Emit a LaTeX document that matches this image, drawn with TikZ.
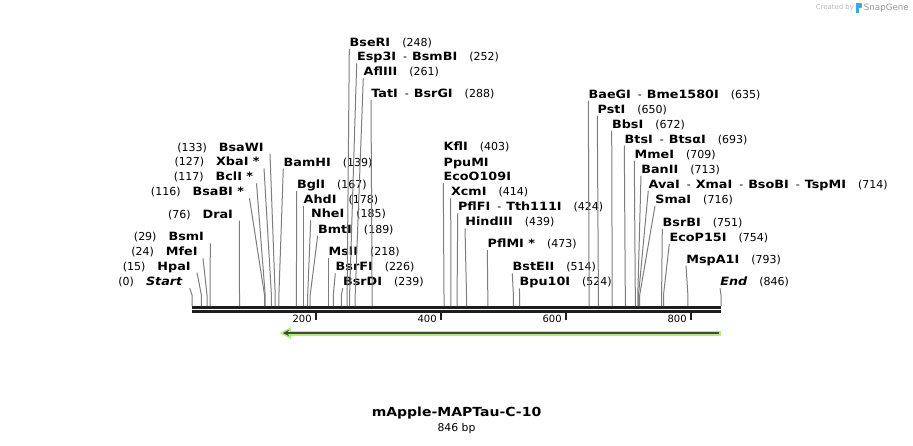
\documentclass[tikz,border=0pt]{standalone}
\usepackage{fontspec}
\setmainfont{DejaVu Sans}
\newfontfamily\enzfont{DejaVu Sans}[FakeStretch=1.12]
\usetikzlibrary{arrows.meta}

\definecolor{sitegray}{RGB}{125,125,125}
\definecolor{barblack}{RGB}{30,30,30}
\definecolor{featgreen}{RGB}{176,240,120}
\definecolor{featdark}{RGB}{70,70,70}
\definecolor{logoblue}{RGB}{60,170,225}

\newcommand{\enz}[1]{{\enzfont\bfseries\fontsize{11.4}{13}\selectfont #1}}
\newcommand{\cut}[1]{{\fontsize{11}{13}\selectfont (#1)}}
\newcommand{\also}{\hspace{7pt}{\fontsize{11}{13}\selectfont -}\hspace{5pt}}
\newcommand{\gap}{\hspace{12pt}}

\tikzset{every picture/.style={line width=0.75pt}}
\tikzset{
  enzlbl/.style={inner sep=0pt, text height=8.5pt, text depth=2pt},
  rlbl/.style={enzlbl, anchor=base west},
  llbl/.style={enzlbl, anchor=base east},
  site/.style={draw=sitegray, line width=1pt},
  ticklbl/.style={inner sep=0pt, anchor=base east, font=\fontsize{10}{12}\selectfont},
}

\begin{document}
\begin{tikzpicture}[x=1pt,y=1pt,yscale=-1]
\useasboundingbox (0,0) rectangle (913,445);

%Sequence bar
\coordinate (bartop) at (192,306);
\draw [barblack, line width=3pt] (192,307.4) -- (721,307.4);
\draw [barblack, line width=3pt] (192,311.8) -- (721,311.8);

%Ticks
\coordinate (t200) at (316,313);
\coordinate (t400) at (441,313);
\coordinate (t600) at (566,313);
\coordinate (t800) at (691,313);
\draw [barblack, line width=1.8pt] (t200) -- ++(0,7);
\draw [barblack, line width=1.8pt] (t400) -- ++(0,7);
\draw [barblack, line width=1.8pt] (t600) -- ++(0,7);
\draw [barblack, line width=1.8pt] (t800) -- ++(0,7);
\node [ticklbl] (n200) at (312,322.6) {200};
\node [ticklbl] (n400) at (437,322.6) {400};
\node [ticklbl] (n600) at (562,322.6) {600};
\node [ticklbl] (n800) at (687,322.6) {800};

%Feature arrow
\coordinate (featend) at (721,333);
\coordinate (feattip) at (280,333);
\draw [featgreen, line width=5pt] (featend) -- (289,333);
\fill [featgreen] (feattip) -- (291,327) -- (291,339) -- cycle;
\draw [featdark, line width=2pt, -{Stealth[length=6pt,width=6pt]}] (719,333) -- (283,333);

%Cut sites
\coordinate (s0) at (192,295);
\coordinate (s15) at (201.4,295);
\coordinate (s24) at (207,295);
\coordinate (s29) at (210.1,295);
\coordinate (s76) at (239.5,295);
\coordinate (s116) at (264.5,295);
\coordinate (s117) at (265.2,295);
\coordinate (s127) at (271.4,295);
\coordinate (s133) at (275.2,295);
\coordinate (s139) at (278.9,295);
\coordinate (s167) at (296.4,295);
\coordinate (s178) at (303.3,295);
\coordinate (s185) at (307.7,295);
\coordinate (s189) at (310.2,295);
\coordinate (s218) at (328.3,295);
\coordinate (s226) at (333.3,295);
\coordinate (s239) at (341.4,295);
\coordinate (s248) at (347.1,295);
\coordinate (s252) at (349.6,295);
\coordinate (s261) at (355.2,295);
\coordinate (s288) at (372.1,295);
\coordinate (s403) at (444,295);
\coordinate (s414) at (450.9,295);
\coordinate (s424) at (457.1,295);
\coordinate (s439) at (466.5,295);
\coordinate (s473) at (487.8,295);
\coordinate (s514) at (513.4,295);
\coordinate (s524) at (519.7,295);
\coordinate (s635) at (589.1,295);
\coordinate (s650) at (598.4,295);
\coordinate (s672) at (612.2,295);
\coordinate (s693) at (625.3,295);
\coordinate (s709) at (635.3,295);
\coordinate (s713) at (637.8,295);
\coordinate (s714) at (638.5,295);
\coordinate (s716) at (639.7,295);
\coordinate (s751) at (661.6,295);
\coordinate (s754) at (663.5,295);
\coordinate (s793) at (687.9,295);
\coordinate (s846) at (721,295);

% Labels left of their line
\node [llbl] (bsawi) at (264,151.5) {\cut{133}\gap\enz{BsaWI}};
\node [llbl] (xbai) at (260,165.9) {\cut{127}\gap\enz{XbaI *}};
\node [llbl] (bcli) at (253.5,180.9) {\cut{117}\gap\enz{BclI *}};
\node [llbl] (bsabi) at (244.5,195.9) {\cut{116}\gap\enz{BsaBI *}};
\node [llbl] (drai) at (233.3,218.2) {\cut{76}\gap\enz{DraI}};
\node [llbl] (bsmi) at (204.3,240.9) {\cut{29}\gap\enz{BsmI}};
\node [llbl] (mfei) at (198,255.9) {\cut{24}\gap\enz{MfeI}};
\node [llbl] (hpai) at (191,270.2) {\cut{15}\gap\enz{HpaI}};
\node [llbl] (startlbl) at (182.7,285.9) {\cut{0}\gap\enz{\itshape Start}};

% Labels right of their line
\node [rlbl] (bseri) at (349.3,46.5) {\enz{BseRI}\gap\cut{248}};
\node [rlbl] (espthree) at (356.7,60.9) {\enz{Esp3I}\also\enz{BsmBI}\gap\cut{252}};
\node [rlbl] (afliii) at (363.3,75.9) {\enz{AflIII}\gap\cut{261}};
\node [rlbl] (tati) at (371,97.5) {\enz{TatI}\also\enz{BsrGI}\gap\cut{288}};
\node [rlbl] (bamhi) at (283.3,166.2) {\enz{BamHI}\gap\cut{139}};
\node [rlbl] (bgli) at (296.7,188.5) {\enz{BglI}\gap\cut{167}};
\node [rlbl] (ahdi) at (303.3,203.2) {\enz{AhdI}\gap\cut{178}};
\node [rlbl] (nhei) at (310.7,217.9) {\enz{NheI}\gap\cut{185}};
\node [rlbl] (bmti) at (317.7,233.2) {\enz{BmtI}\gap\cut{189}};
\node [rlbl] (msli) at (328.3,255.9) {\enz{MslI}\gap\cut{218}};
\node [rlbl] (bsrfi) at (335.3,270.9) {\enz{BsrFI}\gap\cut{226}};
\node [rlbl] (bsrdi) at (342.7,285.9) {\enz{BsrDI}\gap\cut{239}};
\node [rlbl] (kfli) at (443.3,150.7) {\enz{KflI}\gap\cut{403}};
\node [rlbl] (ppumi) at (443.3,166.2) {\enz{PpuMI}};
\node [rlbl] (ecoo) at (443.3,180.7) {\enz{EcoO109I}};
\node [rlbl] (xcmi) at (450.7,195.9) {\enz{XcmI}\gap\cut{414}};
\node [rlbl] (pflfi) at (457.7,210.9) {\enz{PflFI}\also\enz{Tth111I}\gap\cut{424}};
\node [rlbl] (hindiii) at (465,225.9) {\enz{HindIII}\gap\cut{439}};
\node [rlbl] (pflmi) at (487.3,247.5) {\enz{PflMI *}\gap\cut{473}};
\node [rlbl] (bsteii) at (512.3,270.9) {\enz{BstEII}\gap\cut{514}};
\node [rlbl] (bputen) at (519.3,285.9) {\enz{Bpu10I}\gap\cut{524}};
\node [rlbl] (baegi) at (588.3,98.2) {\enz{BaeGI}\also\enz{Bme1580I}\gap\cut{635}};
\node [rlbl] (psti) at (597.3,113.2) {\enz{PstI}\gap\cut{650}};
\node [rlbl] (bbsi) at (611.7,128.2) {\enz{BbsI}\gap\cut{672}};
\node [rlbl] (btsi) at (624.3,143.2) {\enz{BtsI}\also\enz{BtsαI}\gap\cut{693}};
\node [rlbl] (mmei) at (634.3,158.2) {\enz{MmeI}\gap\cut{709}};
\node [rlbl] (banii) at (641,173.2) {\enz{BanII}\gap\cut{713}};
\node [rlbl] (avai) at (648.3,188.2) {\enz{AvaI}\also\enz{XmaI}\also\enz{BsoBI}\also\enz{TspMI}\gap\cut{714}};
\node [rlbl] (smai) at (655,203.5) {\enz{SmaI}\gap\cut{716}};
\node [rlbl] (bsrbi) at (662.3,226.5) {\enz{BsrBI}\gap\cut{751}};
\node [rlbl] (ecopi) at (669.3,241.5) {\enz{EcoP15I}\gap\cut{754}};
\node [rlbl] (mspai) at (686,263.2) {\enz{MspA1I}\gap\cut{793}};
\node [rlbl] (endlbl) at (720,285.9) {\enz{\itshape End}\gap\cut{846}};

% Lines from labels to sites
\draw [site] ([xshift=6]bsawi.south east) -- (s133) -- (s133 |- bartop);
\draw [site] ([xshift=4]xbai.south east) -- (s127) -- (s127 |- bartop);
\draw [site] ([xshift=3]bcli.south east) -- (s117) -- (s117 |- bartop);
\draw [site] ([xshift=5]bsabi.south east) -- (s116) -- (s116 |- bartop);
\draw [site] ([xshift=6]drai.south east) -- (s76) -- (s76 |- bartop);
\draw [site] ([xshift=6]bsmi.south east) -- (s29) -- (s29 |- bartop);
\draw [site] ([xshift=5]mfei.south east) -- (s24) -- (s24 |- bartop);
\draw [site] ([xshift=6]hpai.south east) -- (s15) -- (s15 |- bartop);
\draw [site] ([xshift=7]startlbl.south east) -- (s0) -- (s0 |- bartop);
\draw [site] (bseri.south west) -- (s248) -- (s248 |- bartop);
\draw [site] (espthree.south west) -- (s252) -- (s252 |- bartop);
\draw [site] (afliii.south west) -- (s261) -- (s261 |- bartop);
\draw [site] (tati.south west) -- (s288) -- (s288 |- bartop);
\draw [site] (bamhi.south west) -- (s139) -- (s139 |- bartop);
\draw [site] (bgli.south west) -- (s167) -- (s167 |- bartop);
\draw [site] (ahdi.south west) -- (s178) -- (s178 |- bartop);
\draw [site] (nhei.south west) -- (s185) -- (s185 |- bartop);
\draw [site] (bmti.south west) -- (s189) -- (s189 |- bartop);
\draw [site] (msli.south west) -- (s218) -- (s218 |- bartop);
\draw [site] (bsrfi.south west) -- (s226) -- (s226 |- bartop);
\draw [site] (bsrdi.south west) -- (s239) -- (s239 |- bartop);
\draw [site] (ecoo.south west) -- (s403) -- (s403 |- bartop);
\draw [site] (xcmi.south west) -- (s414) -- (s414 |- bartop);
\draw [site] (pflfi.south west) -- (s424) -- (s424 |- bartop);
\draw [site] (hindiii.south west) -- (s439) -- (s439 |- bartop);
\draw [site] (pflmi.south west) -- (s473) -- (s473 |- bartop);
\draw [site] (bsteii.south west) -- (s514) -- (s514 |- bartop);
\draw [site] (bputen.south west) -- (s524) -- (s524 |- bartop);
\draw [site] (baegi.south west) -- (s635) -- (s635 |- bartop);
\draw [site] (psti.south west) -- (s650) -- (s650 |- bartop);
\draw [site] (bbsi.south west) -- (s672) -- (s672 |- bartop);
\draw [site] (btsi.south west) -- (s693) -- (s693 |- bartop);
\draw [site] (mmei.south west) -- (s709) -- (s709 |- bartop);
\draw [site] (banii.south west) -- (s713) -- (s713 |- bartop);
\draw [site] (avai.south west) -- (s714) -- (s714 |- bartop);
\draw [site] (smai.south west) -- (s716) -- (s716 |- bartop);
\draw [site] (bsrbi.south west) -- (s751) -- (s751 |- bartop);
\draw [site] (ecopi.south west) -- (s754) -- (s754 |- bartop);
\draw [site] (mspai.south west) -- (s793) -- (s793 |- bartop);
\draw [site] (endlbl.south west) -- (s846) -- (s846 |- bartop);

% Title
\node [inner sep=0pt] (title) at (456.5,413) {{\enzfont\bfseries\fontsize{12.5}{15}\selectfont mApple-MAPTau-C-10}};
\node [inner sep=0pt] (length) at (456.5,429) {{\fontsize{10.8}{13}\selectfont 846 bp}};

% Branding
\node [inner sep=0pt, anchor=west, text={rgb,255:red,185;green,185;blue,185}] (created) at (815.5,8) {{\fontsize{6.9}{8}\selectfont Created by}};
\fill [logoblue] (856,3) rectangle (858.6,13);
\fill [logoblue] (858.6,3) -- (861,3) .. controls (862.5,3) and (862.5,8) .. (861,8) -- (858.6,8) -- cycle;
\node [inner sep=0pt, anchor=west, text={rgb,255:red,150;green,150;blue,150}] (snapgene) at (863.5,8) {{\fontsize{8.7}{10}\selectfont SnapGene}};

\end{tikzpicture}
\end{document}
